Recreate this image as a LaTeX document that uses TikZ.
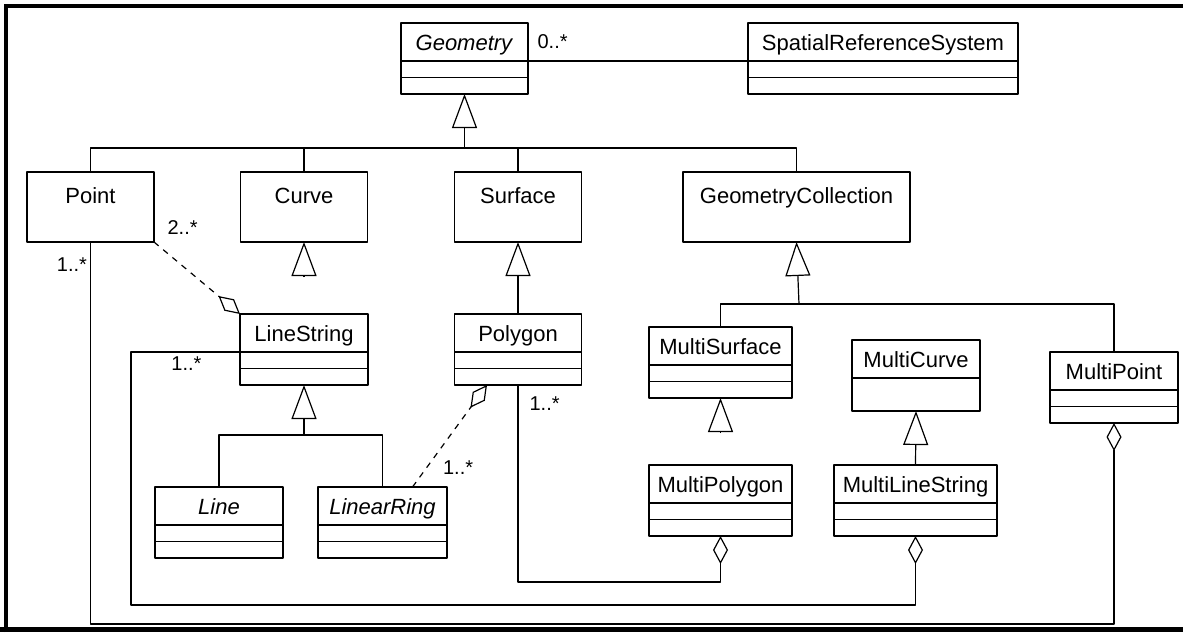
\documentclass[tikz,border=0pt]{standalone}
\usepackage{fontspec}
\setmainfont{Liberation Sans}
\usetikzlibrary{arrows.meta,positioning,calc}
\newlength{\pxl}
\setlength{\pxl}{0.5pt}

\begin{document}
\begin{tikzpicture}[x=0.5pt,y=-0.5pt,line join=bevel,line width=0.6pt,
  every node/.style={font=\fontsize{11}{13}\selectfont},
  wd/.style={minimum width=#1\pxl},
  cname/.style={draw,inner sep=0pt,outer sep=0pt,text height=27\pxl,text depth=11\pxl},
  cpart/.style={draw,inner sep=0pt,outer sep=0pt,minimum height=16.5\pxl},
  onebox/.style={draw,inner sep=0pt,outer sep=0pt,minimum width=127\pxl,text height=31\pxl,text depth=39\pxl},
  mult/.style={inner sep=0pt,font=\fontsize{10}{12}\selectfont},
  gen/.style={-{Triangle[open,length=17pt,width=12.5pt]}},
  agg/.style={-{Diamond[open,length=14pt,width=7.5pt]}}]
\useasboundingbox (0,0) rectangle (1183,632);
\draw [line width=4\pxl,line join=miter] (6,632) -- (6,6) -- (1183,6);
\draw [line width=5\pxl] (0,629.5) -- (1183,629.5);

\node [cname,wd=127] at (464.5,42) (geom) {\textit{Geometry}};
\node [cpart,wd=127,below=0pt of geom] (geom2) {};
\node [cpart,wd=127,below=0pt of geom2] (geom3) {};
\node [cname,wd=270] at (883,42) (srs) {SpatialReferenceSystem};
\node [cpart,wd=270,below=0pt of srs] (srs2) {};
\node [cpart,wd=270,below=0pt of srs2] (srs3) {};

\node [onebox] at (90.5,207) (point) {Point};
\node [onebox] at (304,207) (curve) {Curve};
\node [onebox] at (518,207) (surf) {Surface};
\node [onebox,wd=227] at (796.5,207) (gcoll) {GeometryCollection};

\node [cname,wd=128] at (304,333) (lineS) {LineString};
\node [cpart,wd=128,below=0pt of lineS] (lineS2) {};
\node [cpart,wd=128,below=0pt of lineS2] (lineS3) {};
\node [cname,wd=127] at (518,333) (poly) {Polygon};
\node [cpart,wd=127,below=0pt of poly] (poly2) {};
\node [cpart,wd=127,below=0pt of poly2] (poly3) {};
\node [cname,wd=128] at (219,506) (line) {\textit{Line}};
\node [cpart,wd=128,below=0pt of line] (line2) {};
\node [cpart,wd=128,below=0pt of line2] (line3) {};
\node [cname,wd=129] at (382.5,506) (lring) {\textit{LinearRing}};
\node [cpart,wd=129,below=0pt of lring] (lring2) {};
\node [cpart,wd=129,below=0pt of lring2] (lring3) {};

\node [cname,wd=143] at (720.5,346) (msurf) {MultiSurface};
\node [cpart,wd=143,below=0pt of msurf] (msurf2) {};
\node [cpart,wd=143,below=0pt of msurf2] (msurf3) {};
\node [cname,wd=143] at (720.5,484) (mpoly) {MultiPolygon};
\node [cpart,wd=143,below=0pt of mpoly] (mpoly2) {};
\node [cpart,wd=143,below=0pt of mpoly2] (mpoly3) {};
\node [cname,wd=128] at (916,359) (mcurve) {MultiCurve};
\node [cpart,wd=128,minimum height=33\pxl,below=0pt of mcurve] (mcurve2) {};
\node [cname,wd=163] at (915.5,484) (mls) {MultiLineString};
\node [cpart,wd=163,below=0pt of mls] (mls2) {};
\node [cpart,wd=163,below=0pt of mls2] (mls3) {};
\node [cname,wd=128] at (1114,371) (mpoint) {MultiPoint};
\node [cpart,wd=128,below=0pt of mpoint] (mpoint2) {};
\node [cpart,wd=128,below=0pt of mpoint2] (mpoint3) {};

\coordinate (busTop) at (464.5,148);
\coordinate (busMulti) at (799,304);
\coordinate (busLS) at (304,435);
\coordinate (lsRoute) at (131,605);
\coordinate (polyRoute) at (518,582);
\coordinate (ptRoute) at (90.5,624);

\draw (geom.south east) -- (srs.south west);
\draw [gen] (busTop) -- (geom3.south);
\draw (point.north) |- (busTop) -| (gcoll.north);
\draw (curve.north) -- (curve.north |- busTop);
\draw (surf.north) -- (surf.north |- busTop);
\draw [gen,shorten <=37\pxl] (lineS.north) -- (curve.south);
\draw [gen] (poly.north) -- (surf.south);
\draw [gen] (busMulti) -- (gcoll.south);
\draw (msurf.north) |- (busMulti) -| (mpoint.north);
\draw [gen,shorten <=32\pxl] (mpoly.north) -- (msurf3.south);
\draw [gen] (mls.north) -- (mcurve2.south);
\draw [gen] (busLS) -- (lineS3.south);
\draw (line.north) |- (busLS) -| (lring.north);
\draw [agg,dashed] (point.south east) -- (lineS.north west);
\draw [agg,dashed] ([xshift=30\pxl]lring.north) -- ([xshift=-31\pxl]poly3.south);
\draw [agg] (lineS.south west) -| (lsRoute) -| (mls3.south);
\draw [agg] (poly3.south) -- (polyRoute) -| (mpoly3.south);
\draw [agg] (point.south) -- (ptRoute) -| (mpoint3.south);

\node [mult,anchor=west] at ([xshift=9\pxl]geom.east) (m1) {0..*};
\node [mult,anchor=west] at ([xshift=13\pxl,yshift=14\pxl]point.south east) (m2) {2..*};
\node [mult,anchor=east] at ([xshift=-3\pxl,yshift=-23\pxl]point.south) (m3) {1..*};
\node [mult,anchor=east] at ([xshift=-38\pxl,yshift=-12\pxl]lineS.south west) (m4) {1..*};
\node [mult,anchor=west] at ([xshift=60\pxl,yshift=19\pxl]lring.north) (m5) {1..*};
\node [mult,anchor=west] at ([xshift=11\pxl,yshift=-19\pxl]poly3.south) (m6) {1..*};
\end{tikzpicture}
\end{document}
